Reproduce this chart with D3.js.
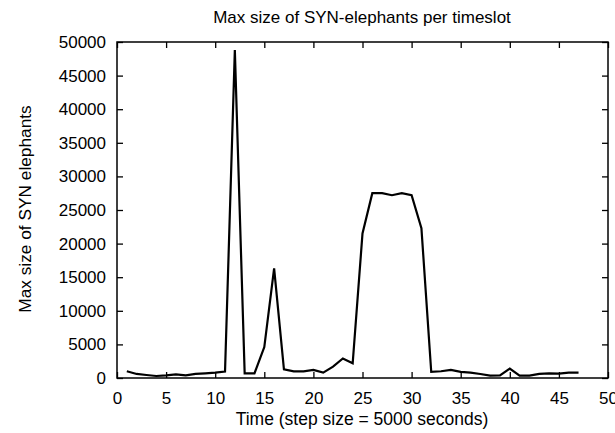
<!DOCTYPE html>
<html>
<head>
<meta charset="utf-8">
<script src="https://cdn.jsdelivr.net/npm/d3@7"></script>
<style>
  body { margin: 0; background: #fff; }
  svg { display: block; }
  text { font-family: "Liberation Sans", Arial, sans-serif; fill: #000; }
</style>
</head>
<body>
<div id="chart"></div>
<script>
// time slots (step size = 5000 seconds)
var slots = [1, 2, 3, 4, 5, 6, 7, 8, 9, 10,
             11, 12, 13, 14, 15, 16, 17, 18, 19, 20,
             21, 22, 23, 24, 25, 26, 27, 28, 29, 30,
             31, 32, 33, 34, 35, 36, 37, 38, 39, 40,
             41, 42, 43, 44, 45, 46, 47];
// max size of SYN elephants per slot
var maxSize = [1000, 600, 450, 300, 400, 550, 400, 600, 700, 800,
               950, 48800, 700, 700, 4600, 16300, 1300, 1000, 1000, 1200,
               800, 1700, 2900, 2200, 21500, 27500, 27500, 27200, 27500, 27200,
               22300, 900, 1000, 1200, 900, 800, 600, 350, 400, 1400,
               350, 350, 600, 700, 650, 800, 800];
var xTicks = [0, 5, 10, 15, 20, 25, 30, 35, 40, 45, 50];
var yTicks = [0, 5000, 10000, 15000, 20000, 25000, 30000, 35000, 40000, 45000, 50000];

var width = 615, height = 433;
var margin = {top: 42, right: 7, bottom: 55, left: 117};

var svg = d3.select("#chart").append("svg")
    .attr("width", width)
    .attr("height", height);

var x = d3.scaleLinear().domain([0, 50]).range([margin.left, width - margin.right]);
var y = d3.scaleLinear().domain([0, 50000]).range([height - margin.bottom, margin.top]);

var tick = 6;
var fmt = d3.format("d");

// bottom axis (ticks inward)
svg.append("g")
    .attr("transform", "translate(0," + y(0) + ")")
    .call(d3.axisBottom(x).tickValues(xTicks).tickFormat(fmt).tickSizeInner(-tick).tickSizeOuter(0).tickPadding(tick + 8));
// top mirror ticks
svg.append("g")
    .attr("transform", "translate(0," + y(50000) + ")")
    .call(d3.axisTop(x).tickValues(xTicks).tickSizeInner(-tick).tickSizeOuter(0).tickFormat(""));
// left axis
svg.append("g")
    .attr("transform", "translate(" + x(0) + ",0)")
    .call(d3.axisLeft(y).tickValues(yTicks).tickFormat(fmt).tickSizeInner(-tick).tickSizeOuter(0).tickPadding(tick + 5));
// right mirror ticks
svg.append("g")
    .attr("transform", "translate(" + x(50) + ",0)")
    .call(d3.axisRight(y).tickValues(yTicks).tickSizeInner(-tick).tickSizeOuter(0).tickFormat(""));

svg.selectAll(".domain").remove();
svg.selectAll(".tick line").attr("stroke", "#000").attr("stroke-width", 1.3);
svg.selectAll(".tick text")
    .style("font-size", "17px")
    .attr("fill", "#000");

// frame
svg.append("rect")
    .attr("x", x(0))
    .attr("y", y(50000))
    .attr("width", x(50) - x(0))
    .attr("height", y(0) - y(50000))
    .attr("fill", "none")
    .attr("stroke", "#000")
    .attr("stroke-width", 1.5);

var line = d3.line()
    .x(function (d, i) { return x(slots[i]); })
    .y(function (d) { return y(d); });

svg.append("path")
    .datum(maxSize)
    .attr("d", line)
    .attr("fill", "none")
    .attr("stroke", "#000")
    .attr("stroke-width", 2.2)
    .attr("stroke-linejoin", "miter");

// title
svg.append("text")
    .attr("x", 362)
    .attr("y", 23)
    .attr("text-anchor", "middle")
    .style("font-size", "17px")
    .text("Max size of SYN-elephants per timeslot");

// x label
svg.append("text")
    .attr("x", 362)
    .attr("y", 425)
    .attr("text-anchor", "middle")
    .style("font-size", "17.5px")
    .text("Time (step size = 5000 seconds)");

// y label
svg.append("text")
    .attr("transform", "translate(31,209) rotate(-90)")
    .attr("text-anchor", "middle")
    .style("font-size", "17.3px")
    .text("Max size of SYN elephants");
</script>
</body>
</html>
